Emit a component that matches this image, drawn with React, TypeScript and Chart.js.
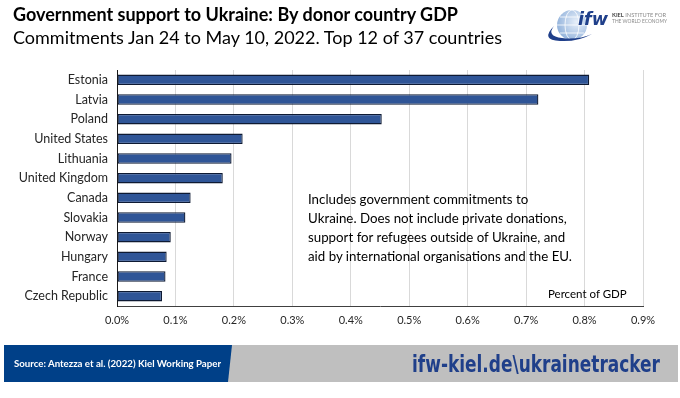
import React, { useEffect, useRef } from "react";
import { Chart, registerables } from "chart.js";

Chart.register(...registerables);

const countries = [
  "Estonia",
  "Latvia",
  "Poland",
  "United States",
  "Lithuania",
  "United Kingdom",
  "Canada",
  "Slovakia",
  "Norway",
  "Hungary",
  "France",
  "Czech Republic",
];
const percentOfGdp = [0.808, 0.721, 0.453, 0.215, 0.196, 0.181, 0.126, 0.117, 0.092, 0.085, 0.083, 0.077];
const xTicks = [0, 0.1, 0.2, 0.3, 0.4, 0.5, 0.6, 0.7, 0.8, 0.9];

const titleText = "Government support to Ukraine: By donor country GDP";
const subtitleText = "Commitments Jan 24 to May 10, 2022. Top 12 of 37 countries";
const noteLines = [
  "Includes government commitments to",
  "Ukraine. Does not include private donations,",
  "support for refugees outside of Ukraine, and",
  "aid by international organisations and the EU.",
];
const unitLabel = "Percent of GDP";
const sourceText = "Source: Antezza et al. (2022) Kiel Working Paper";
const urlText = "ifw-kiel.de\\ukrainetracker";

const FONT = "Lato, 'Open Sans', sans-serif";

export default function App() {
  const ref = useRef<HTMLCanvasElement | null>(null);

  useEffect(() => {
    if (!ref.current) return;
    const chart = new Chart(ref.current, {
      type: "bar",
      data: {
        labels: countries,
        datasets: [
          {
            data: percentOfGdp,
            backgroundColor: "#2F5597",
            borderColor: "#0E1A33",
            borderWidth: 1.3,
            borderSkipped: false,
            barPercentage: 0.53,
            categoryPercentage: 1,
          },
        ],
      },
      options: {
        indexAxis: "y",
        responsive: false,
        animation: false,
        devicePixelRatio: 1,
        layout: { padding: { top: 70, right: 37, bottom: 68, left: 0 } },
        plugins: { legend: { display: false }, tooltip: { enabled: false } },
        scales: {
          x: {
            min: 0,
            max: 0.9,
            afterBuildTicks: (s: any) => {
              s.ticks = xTicks.map((v) => ({ value: v }));
            },
            afterFit: (s: any) => {
              s.height = 24;
            },
            grid: { color: "#D9D9D9", drawTicks: false, lineWidth: 1 },
            border: { color: "#404040", width: 1 },
            ticks: {
              padding: 8,
              color: "#262626",
              font: { family: FONT, size: 11 },
              callback: (v: any) => Number(v).toFixed(1) + "%",
            },
          },
          y: {
            afterFit: (s: any) => {
              s.width = 117;
            },
            grid: { display: false, drawTicks: false },
            border: { color: "#1A1A1A", width: 1 },
            ticks: {
              padding: 9,
              color: "#262626",
              font: { family: FONT, size: 12.5 },
            },
          },
        },
      },
    });
    return () => chart.destroy();
  }, []);

  return (
    <div
      style={{
        position: "fixed",
        left: 0,
        top: 0,
        width: 680,
        height: 398,
        background: "#fff",
        overflow: "hidden",
        fontFamily: FONT,
      }}
    >
      <canvas ref={ref} width={680} height={398} style={{ position: "absolute", left: 0, top: 0 }} />
      <div
        style={{
          position: "absolute",
          left: 13,
          top: 3,
          fontSize: 18,
          fontWeight: 700,
          color: "#000",
          whiteSpace: "nowrap",
          lineHeight: "22px",
        }}
      >
        {titleText}
      </div>
      <div
        style={{
          position: "absolute",
          left: 13,
          top: 26,
          fontSize: 18,
          color: "#000",
          whiteSpace: "nowrap",
          lineHeight: "22px",
        }}
      >
        {subtitleText}
      </div>
      {/* logo */}
      <svg style={{ position: "absolute", left: 540, top: 0 }} width={140} height={56} viewBox="0 0 140 56">
        <defs>
          <radialGradient id="gl" cx="0.65" cy="0.4" r="0.7">
            <stop offset="0" stopColor="#E8F0FA" />
            <stop offset="1" stopColor="#8FB0DA" />
          </radialGradient>
        </defs>
        <circle cx={32} cy={25} r={15} fill="url(#gl)" />
        <ellipse cx={32} cy={25} rx={7} ry={15} fill="none" stroke="#fff" strokeWidth={0.8} />
        <line x1={17} y1={25} x2={47} y2={25} stroke="#fff" strokeWidth={0.8} />
        <line x1={20} y1={17} x2={44} y2={17} stroke="#fff" strokeWidth={0.8} />
        <line x1={20} y1={33} x2={44} y2={33} stroke="#fff" strokeWidth={0.8} />
        <path d="M14 26 Q6 36 22 38 Q38 40 52 34 Q38 42 20 41 Q0 40 14 26 Z" fill="#1F3F8A" />
        <text
          x={38}
          y={25}
          fontFamily="'DejaVu Sans', sans-serif"
          fontStyle="italic"
          fontWeight={700}
          fontSize={17}
          fill="#1F3F8A"
          textLength={30}
          lengthAdjust="spacingAndGlyphs"
        >
          ifw
        </text>
        <text x={72} y={17} fontFamily={FONT} fontSize={5} fill="#8A8A8A" textLength={54} lengthAdjust="spacingAndGlyphs">
          <tspan fontWeight={700} fill="#444">KIEL</tspan> INSTITUTE FOR
        </text>
        <text x={72} y={23} fontFamily={FONT} fontSize={5} fill="#8A8A8A" textLength={55} lengthAdjust="spacingAndGlyphs">
          THE WORLD ECONOMY
        </text>
      </svg>
      {/* note */}
      <div
        style={{
          position: "absolute",
          left: 308,
          top: 190,
          fontSize: 13.3,
          lineHeight: "19px",
          color: "#000",
          whiteSpace: "nowrap",
        }}
      >
        {noteLines.map((l, i) => (
          <div key={i}>{l}</div>
        ))}
      </div>
      <div
        style={{
          position: "absolute",
          left: 548,
          top: 287,
          fontSize: 11.5,
          color: "#000",
          whiteSpace: "nowrap",
        }}
      >
        {unitLabel}
      </div>
      {/* footer */}
      <svg style={{ position: "absolute", left: 0, top: 340 }} width={680} height={50}>
        <rect x={228} y={5} width={450} height={37} fill="#BFBFBF" />
        <polygon points="4,5 232,5 228,42 4,42" fill="#004088" />
        <text
          x={14}
          y={27}
          fontFamily={FONT}
          fontWeight={700}
          fontSize={10}
          fill="#fff"
          textLength={207}
          lengthAdjust="spacingAndGlyphs"
        >
          {sourceText}
        </text>
        <text
          x={412}
          y={32}
          fontFamily="'DejaVu Sans', sans-serif"
          fontWeight={700}
          fontSize={23}
          fill="#1F3F8A"
          textLength={248}
          lengthAdjust="spacingAndGlyphs"
        >
          {urlText}
        </text>
      </svg>
    </div>
  );
}
